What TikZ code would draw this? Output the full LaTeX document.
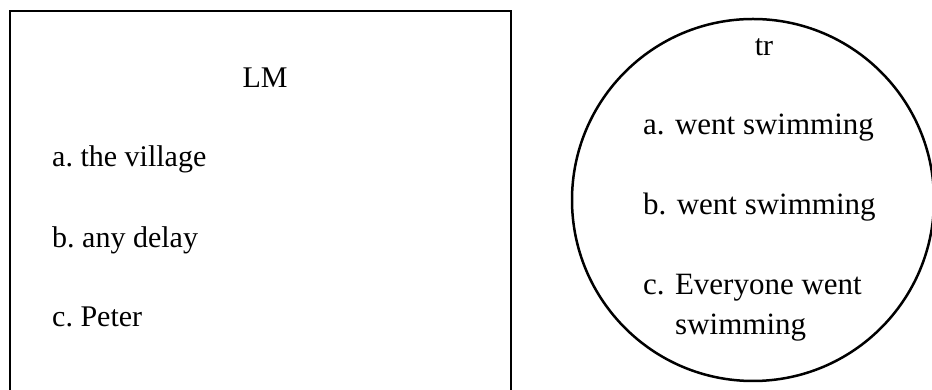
\documentclass[tikz,border=0pt]{standalone}
\usepackage{fontspec}
\setmainfont{Liberation Serif}
\begin{document}
\begin{tikzpicture}[
  x=1pt, y=1pt,
  every node/.style={font=\fontsize{30}{36}\selectfont, inner sep=0pt},
  item/.style={anchor=base west, font=\fontsize{30}{36}\selectfont\frenchspacing},
  tritem/.style={anchor=base west, font=\fontsize{31}{36}\selectfont},
  frame/.style={draw=black, line width=2.5pt}
]
  \useasboundingbox (0,0) rectangle (932,390);

  % Landmark box and trajector circle
  \node[frame, rectangle, minimum width=501pt, minimum height=400pt] (lmbox) at (260.5,179) {};
  \node[frame, circle, minimum size=362pt] (trcirc) at (753,190) {};

  % Landmark items
  \node[anchor=base] (lm) at (265,302) {LM};
  \node[item] (lma) at (52,223) {a. the village};
  \node[item] (lmb) at (52,142) {b. any delay};
  \node[item] (lmc) at (52,63) {c. Peter};

  % Trajector items
  \node[anchor=base] (tr) at (764,334) {tr};
  \node[tritem] (tra) at (643,255) {a. went swimming};
  \node[tritem] (trb) at (643,175) {b. went swimming};
  \node[tritem] (trc) at (643,95) {c. Everyone went};
  \node[tritem] (trd) at (675,55) {swimming};

\end{tikzpicture}
\end{document}
